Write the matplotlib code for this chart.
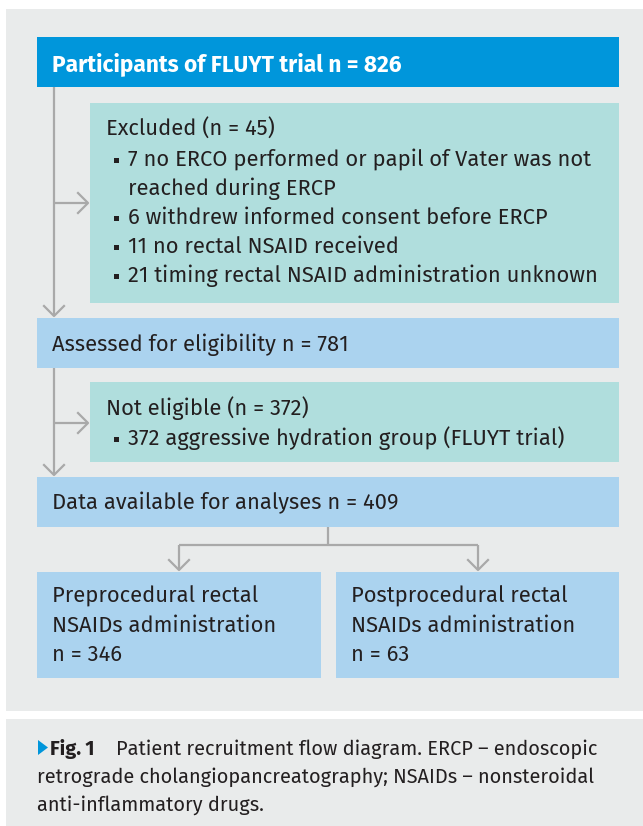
import matplotlib
matplotlib.use("Agg")
import matplotlib.pyplot as plt
from matplotlib.patches import Rectangle, Polygon

# flow counts
total_n = 826
excluded_n = 45
excluded_counts = [7, 6, 11, 21]
excluded_reasons = [["no ERCO performed or papil of Vater was not", "reached during ERCP"],
                    ["withdrew informed consent before ERCP"],
                    ["no rectal NSAID received"],
                    ["timing rectal NSAID administration unknown"]]
assessed_n = 781
not_eligible_n = 372
not_eligible_reasons = [["aggressive hydration group (FLUYT trial)"]]
analysed_n = 409
group_names = [["Preprocedural rectal", "NSAIDs administration"],
               ["Postprocedural rectal", "NSAIDs administration"]]
group_n = [346, 63]
caption = ["Patient recruitment flow diagram. ERCP \u2013 endoscopic",
           "retrograde cholangiopancreatography; NSAIDs \u2013 nonsteroidal",
           "anti-inflammatory drugs."]

plt.rcParams['font.family'] = ['Fira Sans', 'Roboto', 'DejaVu Sans']

BG = "#e9ebeb"
TOP = "#0096db"
TEAL = "#b0dedd"
LBLUE = "#abd3ef"
LINE = "#a9a9a9"
TXT = "#231f20"
LH = 29

fig = plt.figure(figsize=(6.43, 8.26), dpi=100)
ax = fig.add_axes([0, 0, 1, 1])
ax.set_xlim(0, 643)
ax.set_ylim(826, 0)
ax.axis("off")
rend = fig.canvas.get_renderer()


def fit(s, width, **kw):
    # font size that makes string s about `width` pixels wide
    t = fig.text(0, 0, s, fontsize=10, **kw)
    w = t.get_window_extent(rend).width
    t.remove()
    return 10 * width / w


FS = fit(f"{excluded_counts[3]} {excluded_reasons[3][0]}", 467)
TFS = fit(f"Participants of FLUYT trial n = {total_n}", 349, fontweight="bold")
CFS = fit(caption[1], 555)


def box(x0, y0, x1, y1, color):
    ax.add_patch(Rectangle((x0, y0), x1 - x0, y1 - y0, facecolor=color, edgecolor="none"))


def seg(x0, y0, x1, y1):
    ax.plot([x0, x1], [y0, y1], color=LINE, lw=1.6, solid_capstyle="butt")


def head(x, y, d):
    # open chevron, tip at (x, y)
    if d == "down":
        ax.plot([x - 10, x, x + 10], [y - 10, y, y - 10], color=LINE, lw=1.6)
    else:
        ax.plot([x - 10, x, x - 10], [y - 10, y, y + 10], color=LINE, lw=1.6)


def line(x, y, s, **kw):
    ax.text(x, y, s, fontsize=kw.pop("fs", FS), color=kw.pop("color", TXT),
            va="baseline", ha="left", **kw)


def bullets(x, y, items):
    for it in items:
        ax.add_patch(Rectangle((x, y - 8), 5, 5, facecolor=TXT, edgecolor="none"))
        for s in it:
            line(x + 14, y, s)
            y += LH
    return y


# panels
box(6, 9, 643, 711, BG)
box(6, 719, 643, 826, BG)

# arrows
seg(54, 87, 54, 316)
head(54, 316, "down")
seg(54, 203, 88, 203)
head(88, 203, "right")
seg(54, 368, 54, 475)
head(54, 475, "down")
seg(54, 423, 88, 423)
head(88, 423, "right")
seg(328, 527, 328, 545)
seg(179, 545, 478, 545)
seg(179, 545, 179, 570)
seg(478, 545, 478, 570)
head(179, 570, "down")
head(478, 570, "down")

# boxes
box(37, 37, 619, 87, TOP)
line(52, 71, f"Participants of FLUYT trial n = {total_n}", fs=TFS,
     fontweight="bold", color="white")

box(90, 103, 619, 303, TEAL)
line(106, 136, f"Excluded (n = {excluded_n})")
bullets(114, 166, [[f"{c} {r[0]}"] + r[1:] for c, r in zip(excluded_counts, excluded_reasons)])

box(37, 318, 619, 368, LBLUE)
line(52, 351, f"Assessed for eligibility n = {assessed_n}")

box(90, 382, 619, 462, TEAL)
line(106, 415, f"Not eligible (n = {not_eligible_n})")
bullets(114, 445, [[f"{not_eligible_n} {r[0]}"] + r[1:] for r in not_eligible_reasons])

box(37, 477, 619, 527, LBLUE)
line(52, 509, f"Data available for analyses n = {analysed_n}")

for (x0, x1), name, n in zip([(37, 321), (336, 619)], group_names, group_n):
    box(x0, 572, x1, 678, LBLUE)
    yy = 603
    for s in name + [f"n = {n}"]:
        line(x0 + 15, yy, s)
        yy += LH

# caption
ax.add_patch(Polygon([[38, 740], [38, 755], [48, 747.5]], closed=True,
                     facecolor=TOP, edgecolor="none"))
line(50, 755, "Fig.\u20091", fs=CFS, fontweight="bold")
line(116, 755, caption[0], fs=CFS)
line(37, 783, caption[1], fs=CFS)
line(37, 811, caption[2], fs=CFS)

fig.savefig("out.png", dpi=100, facecolor="white")
